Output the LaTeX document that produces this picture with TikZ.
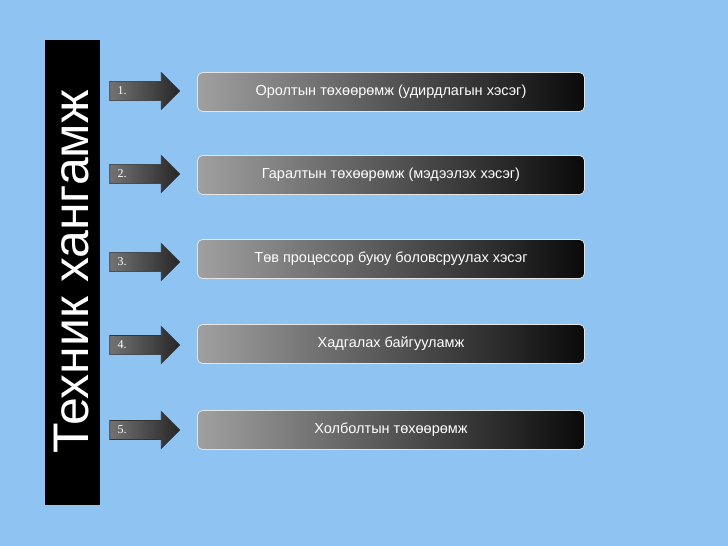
\documentclass[tikz,border=0pt]{standalone}
\usepackage{fontspec}
\setmainfont{Liberation Sans}
\newfontfamily\numfont{Liberation Serif}
\usetikzlibrary{positioning,shapes.arrows}
\definecolor{skyblue}{HTML}{8EC3F2}
\definecolor{boxgrey}{HTML}{A0A0A0}
\definecolor{boxmid}{HTML}{303030}
\definecolor{boxdark}{HTML}{0A0A0A}
\begin{document}
\begin{tikzpicture}[x=1pt, y=-1pt,
                    itembox/.style={rounded corners=5pt, draw=white!80!gray, line width=0.8pt,
                      left color=boxgrey, middle color=boxmid, right color=boxdark, text=white,
                      minimum width=387pt, minimum height=39pt, font=\fontsize{14.5}{16}\selectfont},
                    numarrow/.style={single arrow, draw=black!80, line width=0.6pt,
                      left color=black!55, right color=black!85, text=white,
                      minimum width=37pt, single arrow head extend=5pt,
                      minimum height=70pt, inner sep=1pt, font=\numfont\fontsize{12}{13}\selectfont}]

\fill[skyblue] (0,0) rectangle (728,546);
\useasboundingbox (0,0) rectangle (728,546);

% side bar
\node[fill=black, minimum width=55pt, minimum height=465pt, inner sep=0pt] (bar) at (72,272) {};
\node[rotate=90, text=white, font=\fontsize{50}{54}\selectfont] (title) at (bar.center) {Техник хангамж};

% rows
\node[itembox] (B1) at (391,92) {Оролтын төхөөрөмж (удирдлагын хэсэг)};
\node[itembox] (B2) at (391,175) {Гаралтын төхөөрөмж (мэдээлэх хэсэг)};
\node[itembox] (B3) at (391,259) {Төв процессор буюу боловсруулах хэсэг};
\node[itembox] (B4) at (391,344) {Хадгалах байгууламж};
\node[itembox] (B5) at (391,430) {Холболтын төхөөрөмж};

\node[numarrow] (A1) at (140,91) {\hspace*{-24pt}1.\hspace*{12pt}};
\node[numarrow] (A2) at (140,174) {\hspace*{-24pt}2.\hspace*{12pt}};
\node[numarrow] (A3) at (140,262) {\hspace*{-24pt}3.\hspace*{12pt}};
\node[numarrow] (A4) at (140,345) {\hspace*{-24pt}4.\hspace*{12pt}};
\node[numarrow] (A5) at (140,430) {\hspace*{-24pt}5.\hspace*{12pt}};
\end{tikzpicture}
\end{document}
